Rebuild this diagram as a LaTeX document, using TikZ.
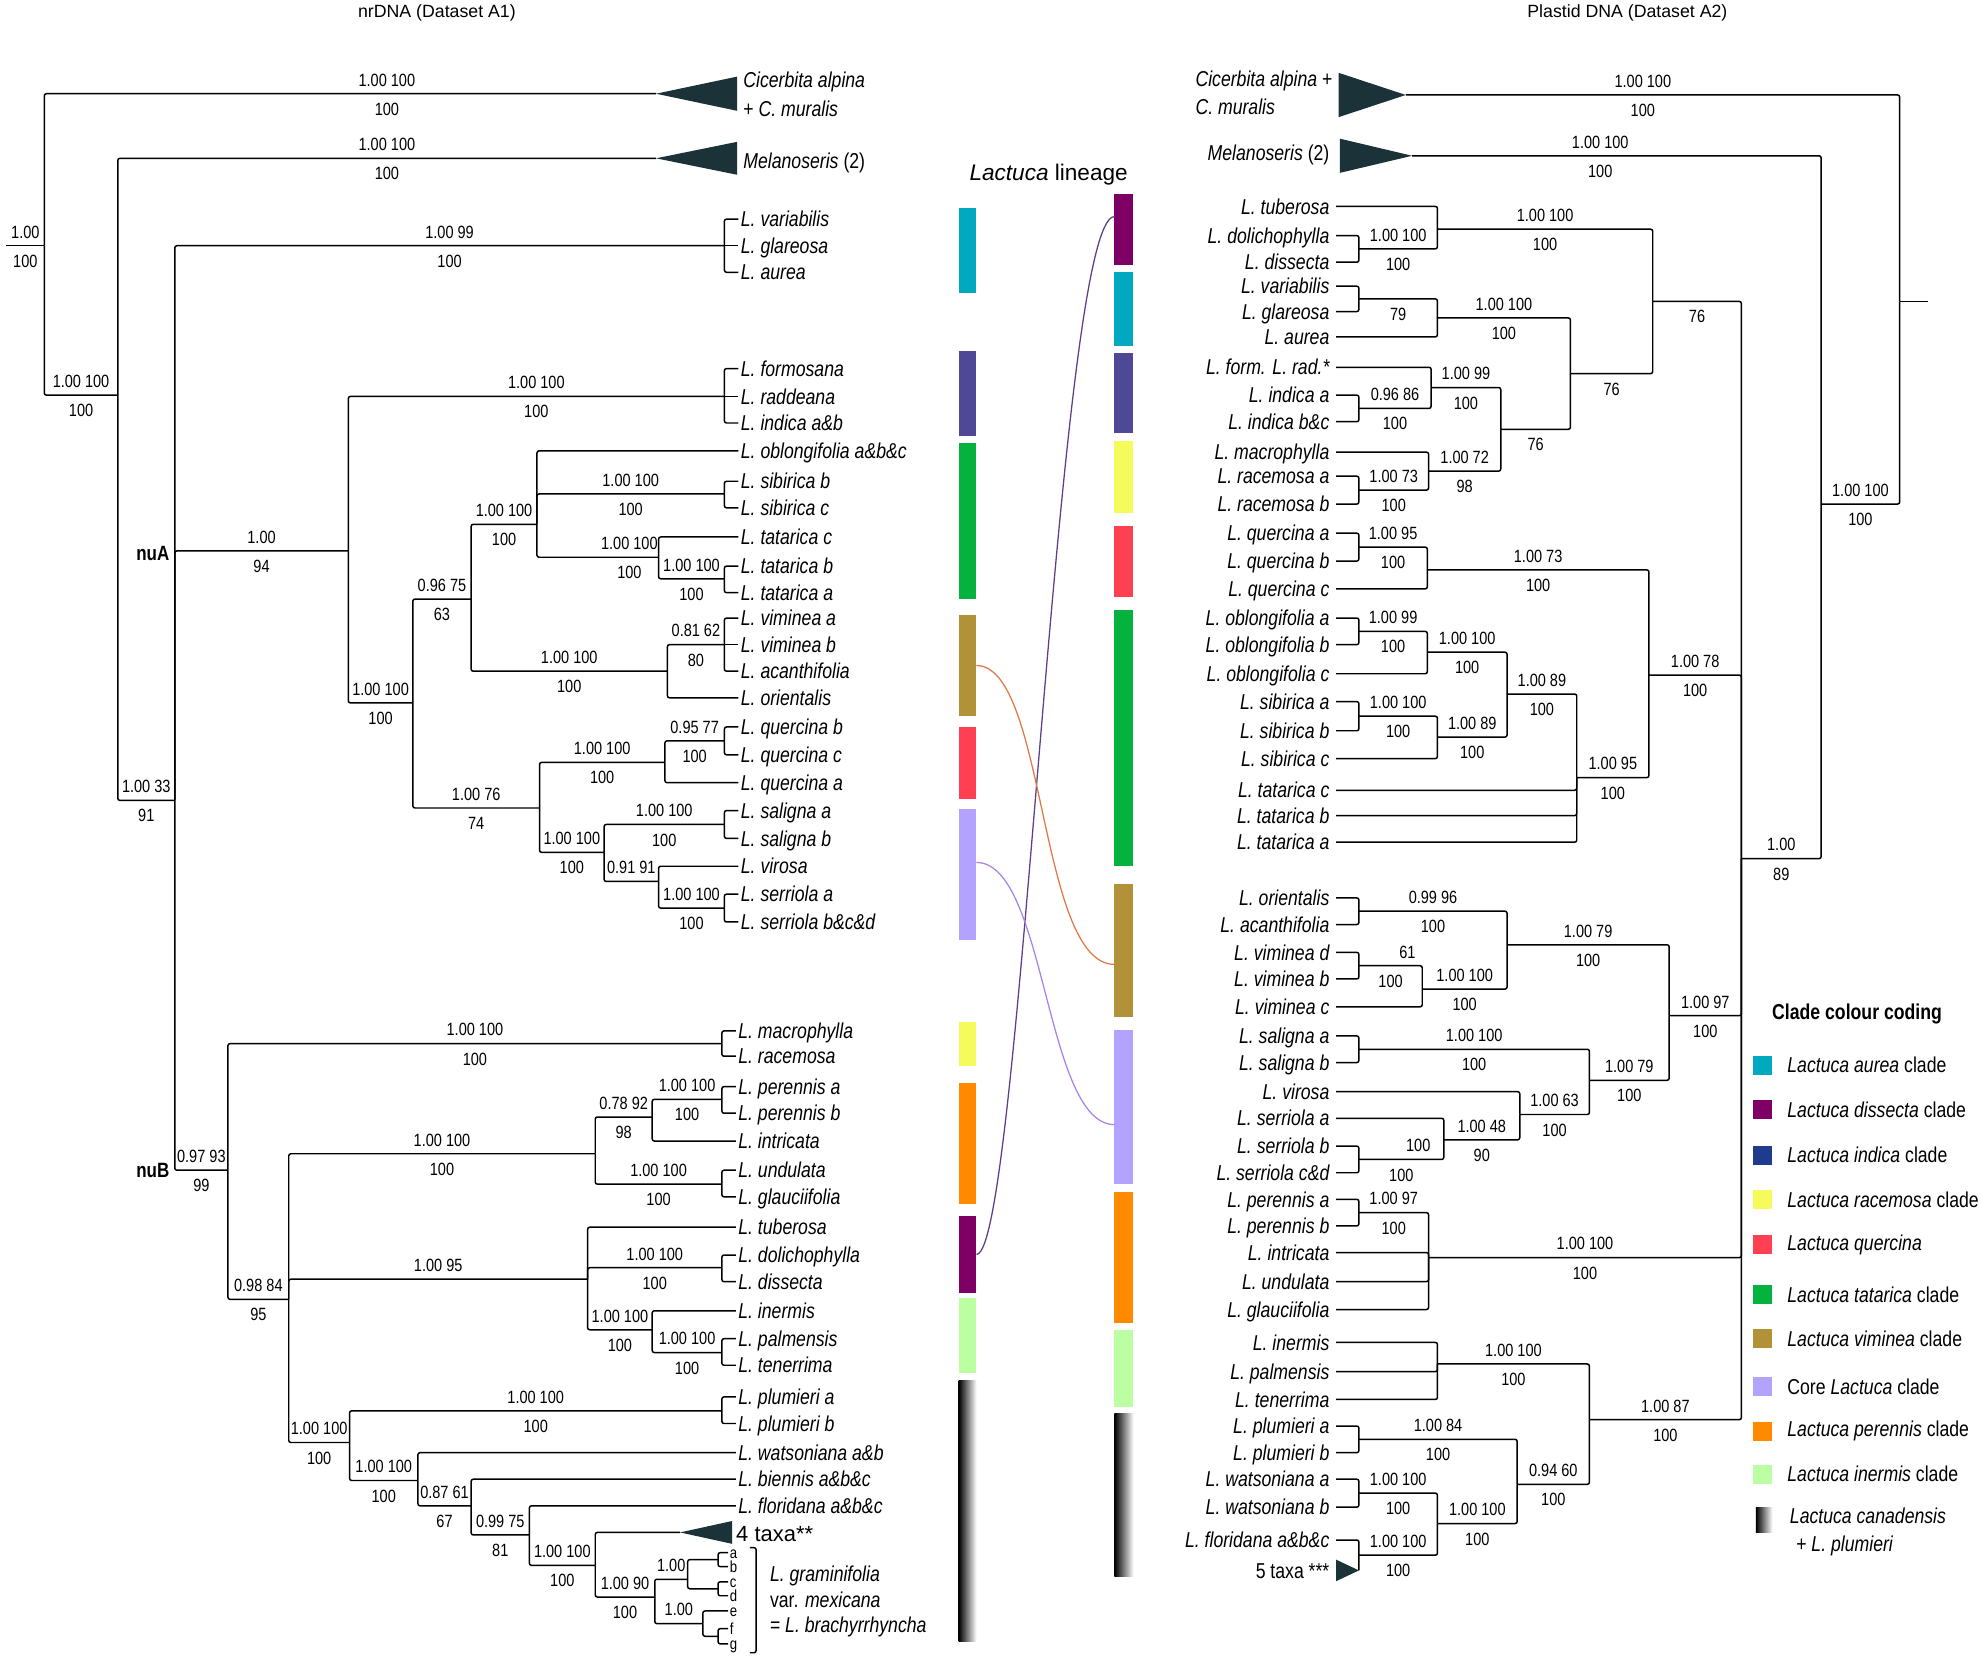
\documentclass[tikz,border=0pt]{standalone}
\usepackage{fontspec}
\setmainfont{Liberation Sans}[FakeStretch=0.82]
\newfontfamily\widefont{Liberation Sans}
\usepackage{tikz}
\usetikzlibrary{shadings}

\definecolor{caur}{HTML}{00A8C0}
\definecolor{cdis}{HTML}{7F0064}
\definecolor{cind}{HTML}{4E4897}
\definecolor{cnavy}{HTML}{1F3B8E}
\definecolor{crac}{HTML}{F6FB5C}
\definecolor{cque}{HTML}{FF4052}
\definecolor{ctat}{HTML}{04B23D}
\definecolor{cvim}{HTML}{B19239}
\definecolor{ccore}{HTML}{B4A2FF}
\definecolor{cper}{HTML}{FF8A00}
\definecolor{cine}{HTML}{BCFFA3}
\definecolor{cclade}{HTML}{1B3238}
\definecolor{cdisline}{HTML}{5C3F86}
\definecolor{cvimline}{HTML}{DE7A48}
\definecolor{ccoreline}{HTML}{A884E6}

\begin{document}
\begin{tikzpicture}
  [x=0.6pt, y=-0.6pt,
   enode/.style={minimum size=0, inner sep=0},
   br/.style={line width=0.7pt, rounded corners=1pt},
   num/.style={font=\fontsize{8.4}{9}\selectfont, inner sep=1pt},
   pplab/.style={num, pos=.75, above=2.2pt},
   bslab/.style={num, pos=.75, below=3pt},
   tax/.style={font=\fontsize{10.2}{12}\selectfont\itshape, inner ysep=0pt,
               text height=7.3pt, text depth=0pt},
   ltax/.style={tax, anchor=west, inner xsep=1pt},
   rtax/.style={tax, anchor=east, inner xsep=3pt},
   lett/.style={font=\fontsize{7.6}{8}\selectfont, anchor=west, inner xsep=0.6pt,
                inner ysep=0pt, text height=5.4pt, text depth=0pt},
   nulab/.style={font=\fontsize{9.8}{11}\selectfont\bfseries, anchor=east, inner sep=0},
   clade/.style={fill=cclade},
   cbar/.style={minimum width=8.4pt, minimum height=#1, inner sep=0, outer sep=0},
   swatch/.style={minimum size=9pt, inner sep=0},
   legtext/.style={font=\fontsize{10.2}{12}\selectfont, anchor=west, inner sep=0}]

  \useasboundingbox (0,0) rectangle (1565,1309.2);

  % titles
  \node[font=\widefont\fontsize{8.4}{10}\selectfont] (ltitle) at (345,10) {nrDNA (Dataset A1)};
  \node[font=\widefont\fontsize{8.4}{10}\selectfont] (rtitle) at (1285,10) {Plastid DNA (Dataset A2)};
  \node[font=\widefont\fontsize{10.7}{12}\selectfont] (lineage) at (828,138) {\textit{Lactuca} lineage};

  %%%%%%%%%%%%%%%% nrDNA tree %%%%%%%%%%%%%%%%
  \coordinate (lroot) at (5,194);
  \coordinate (lA) at (35,194);
  \coordinate (lB) at (93,312);
  \coordinate (lC) at (138,632);
  \coordinate (lcic) at (518,74);
  \coordinate (lmel) at (518,125);
  \draw[br] (lroot) -- (lA) node[num, midway, above=2.2pt] {1.00} node[num, midway, below=3pt] {100};
  \draw[br] (lA) |- (lcic) node[pplab, pos=.78] {1.00 100} node[bslab, pos=.78] {100};
  \draw[br] (lA) |- (lB) node[pplab] {1.00 100} node[bslab] {100};
  \draw[br] (lB) |- (lmel) node[pplab] {1.00 100} node[bslab] {100};
  \draw[br] (lB) |- (lC) node[pplab] {1.00 33} node[bslab] {91};

  % outgroups
  \fill[clade] (lcic) -- ++(64,-13.5) -- ++(0,27) -- cycle;
  \fill[clade] (lmel) -- ++(64,-13) -- ++(0,26) -- cycle;
  \node[ltax] (lcicl) at (585,63) {Cicerbita alpina};
  \node[ltax] (lcicm) at (585,86) {\textup{+} C. muralis};
  \node[ltax] (lmell) at (585,127) {Melanoseris \textup{(2)}};

  % aurea clade
  \coordinate (laurk) at (572,194);
  \draw[br] (lC) |- (laurk) node[pplab] {1.00 99} node[bslab] {100};
  \node[ltax] (lvar) at (583,173) {L. variabilis};
  \node[ltax] (lgla) at (583,194) {L. glareosa};
  \node[ltax] (laurea) at (583,215) {L. aurea};
  \draw[br] (lvar) -| (laurk) |- (laurea);
  \draw[br] (laurk) -- (lgla);

  % nuA
  \coordinate (lD) at (275,435);
  \draw[br] (lC) |- (lD) node[pplab] {1.00} node[bslab] {94};
  \node[nulab] (lnuA) at (134,437) {nuA};

  \coordinate (lindk) at (572,313);
  \draw[br] (lD) |- (lindk) node[pplab] {1.00 100} node[bslab] {100};
  \node[ltax] (lfor) at (583,291) {L. formosana};
  \node[ltax] (lrad) at (583,313) {L. raddeana};
  \node[ltax] (lind) at (583,334) {L. indica a\&b};
  \draw[br] (lfor) -| (lindk) |- (lind);
  \draw[br] (lindk) -- (lrad);

  \coordinate (lE) at (326,555);
  \coordinate (lF) at (372,473);
  \coordinate (lG) at (424,414);
  \draw[br] (lD) |- (lE) node[pplab] {1.00 100} node[bslab] {100};
  \draw[br] (lE) |- (lF) node[pplab] {0.96 75} node[bslab] {63};
  \draw[br] (lF) |- (lG) node[pplab] {1.00 100} node[bslab] {100};

  \node[ltax] (lobl) at (583,356) {L. oblongifolia a\&b\&c};
  \draw[br] (lG) |- (lobl);
  \coordinate (lsibk) at (572,390);
  \draw[br] (lG) |- (lsibk) node[pplab] {1.00 100} node[bslab] {100};
  \node[ltax] (lsibb) at (583,380) {L. sibirica b};
  \node[ltax] (lsibc) at (583,401) {L. sibirica c};
  \draw[br] (lsibb) -| (lsibk) |- (lsibc);

  \coordinate (lH) at (520,440);
  \draw[br] (lG) |- (lH) node[pplab, pos=.88] {1.00 100} node[bslab, pos=.88] {100};
  \node[ltax] (ltatc) at (583,424) {L. tatarica c};
  \draw[br] (lH) |- (ltatc);
  \coordinate (ltatk) at (572,457);
  \draw[br] (lH) |- (ltatk) node[pplab] {1.00 100} node[bslab] {100};
  \node[ltax] (ltatb) at (583,447) {L. tatarica b};
  \node[ltax] (ltata) at (583,468) {L. tatarica a};
  \draw[br] (ltatb) -| (ltatk) |- (ltata);

  \coordinate (lJ) at (527,530);
  \draw[br] (lF) |- (lJ) node[pplab] {1.00 100} node[bslab] {100};
  \coordinate (lvimk) at (572,509);
  \draw[br] (lJ) |- (lvimk) node[pplab] {0.81 62} node[bslab] {80};
  \node[ltax] (lvima) at (583,488) {L. viminea a};
  \node[ltax] (lvimb) at (583,509) {L. viminea b};
  \node[ltax] (lacan) at (583,530) {L. acanthifolia};
  \draw[br] (lvima) -| (lvimk) |- (lacan);
  \draw[br] (lvimk) -- (lvimb);
  \node[ltax] (lori) at (583,551) {L. orientalis};
  \draw[br] (lJ) |- (lori);

  \coordinate (lL) at (426,638);
  \coordinate (lM) at (525,602);
  \draw[br] (lE) |- (lL) node[pplab] {1.00 76} node[bslab] {74};
  \draw[br] (lL) |- (lM) node[pplab] {1.00 100} node[bslab] {100};
  \coordinate (lquek) at (572,585);
  \draw[br] (lM) |- (lquek) node[pplab] {0.95 77} node[bslab] {100};
  \node[ltax] (lqueb) at (583,574) {L. quercina b};
  \node[ltax] (lquec) at (583,596) {L. quercina c};
  \draw[br] (lqueb) -| (lquek) |- (lquec);
  \node[ltax] (lquea) at (583,618) {L. quercina a};
  \draw[br] (lM) |- (lquea);

  \coordinate (lO) at (477,673);
  \draw[br] (lL) |- (lO) node[pplab] {1.00 100} node[bslab] {100};
  \coordinate (lsalk) at (572,651);
  \draw[br] (lO) |- (lsalk) node[pplab] {1.00 100} node[bslab] {100};
  \node[ltax] (lsala) at (583,640) {L. saligna a};
  \node[ltax] (lsalb) at (583,662) {L. saligna b};
  \draw[br] (lsala) -| (lsalk) |- (lsalb);
  \coordinate (lQ) at (520,696);
  \draw[br] (lO) |- (lQ) node[pplab] {0.91 91};
  \node[ltax] (lvir) at (583,684) {L. virosa};
  \draw[br] (lQ) |- (lvir);
  \coordinate (lserk) at (572,717);
  \draw[br] (lQ) |- (lserk) node[pplab] {1.00 100} node[bslab] {100};
  \node[ltax] (lsera) at (583,706) {L. serriola a};
  \node[ltax] (lserb) at (583,728) {L. serriola b\&c\&d};
  \draw[br] (lsera) -| (lserk) |- (lserb);

  % nuB
  \coordinate (lS) at (180,924);
  \draw[br] (lC) |- (lS) node[pplab] {0.97 93} node[bslab] {99};
  \node[nulab] (lnuB) at (134,924) {nuB};

  \coordinate (lmack) at (570,824);
  \draw[br] (lS) |- (lmack) node[pplab] {1.00 100} node[bslab] {100};
  \node[ltax] (lmac) at (581,814) {L. macrophylla};
  \node[ltax] (lrac) at (581,834) {L. racemosa};
  \draw[br] (lmac) -| (lmack) |- (lrac);

  \coordinate (lT) at (228,1026);
  \coordinate (lU) at (470,911);
  \coordinate (lV) at (515,882);
  \draw[br] (lS) |- (lT) node[pplab] {0.98 84} node[bslab] {95};
  \draw[br] (lT) |- (lU) node[pplab] {1.00 100} node[bslab] {100};
  \draw[br] (lU) |- (lV) node[pplab] {0.78 92} node[bslab] {98};
  \coordinate (lperk) at (570,868);
  \draw[br] (lV) |- (lperk) node[pplab] {1.00 100} node[bslab] {100};
  \node[ltax] (lpera) at (581,858) {L. perennis a};
  \node[ltax] (lperb) at (581,879) {L. perennis b};
  \draw[br] (lpera) -| (lperk) |- (lperb);
  \node[ltax] (lint) at (581,901) {L. intricata};
  \draw[br] (lV) |- (lint);
  \coordinate (lundk) at (570,935);
  \draw[br] (lU) |- (lundk) node[pplab] {1.00 100} node[bslab] {100};
  \node[ltax] (lund) at (581,924) {L. undulata};
  \node[ltax] (lglc) at (581,945) {L. glauciifolia};
  \draw[br] (lund) -| (lundk) |- (lglc);

  \coordinate (lY) at (464,1010);
  \draw[br] (lT) |- (lY) node[pplab] {1.00 95};
  \node[ltax] (ltub) at (581,969) {L. tuberosa};
  \draw[br] (lY) |- (ltub);
  \coordinate (ldolk) at (570,1001);
  \draw[br] (lY) |- (ldolk) node[pplab] {1.00 100} node[bslab] {100};
  \node[ltax] (ldol) at (581,991) {L. dolichophylla};
  \node[ltax] (ldis) at (581,1012) {L. dissecta};
  \draw[br] (ldol) -| (ldolk) |- (ldis);
  \coordinate (lAA) at (515,1050);
  \draw[br] (lY) |- (lAA) node[pplab] {1.00 100} node[bslab] {100};
  \node[ltax] (line) at (581,1035) {L. inermis};
  \draw[br] (lAA) |- (line);
  \coordinate (lpalk) at (570,1068);
  \draw[br] (lAA) |- (lpalk) node[pplab] {1.00 100} node[bslab] {100};
  \node[ltax] (lpal) at (581,1057) {L. palmensis};
  \node[ltax] (lten) at (581,1078) {L. tenerrima};
  \draw[br] (lpal) -| (lpalk) |- (lten);

  \coordinate (lAC) at (276,1139);
  \draw[br] (lT) |- (lAC) node[pplab] {1.00 100} node[bslab] {100};
  \coordinate (lpluk) at (570,1114);
  \draw[br] (lAC) |- (lpluk) node[pplab] {1.00 100} node[bslab] {100};
  \node[ltax] (lplua) at (581,1103) {L. plumieri a};
  \node[ltax] (lplub) at (581,1124) {L. plumieri b};
  \draw[br] (lplua) -| (lpluk) |- (lplub);
  \coordinate (lAD) at (330,1169);
  \draw[br] (lAC) |- (lAD) node[pplab] {1.00 100} node[bslab] {100};
  \node[ltax] (lwat) at (581,1147) {L. watsoniana a\&b};
  \draw[br] (lAD) |- (lwat);
  \coordinate (lAE) at (372,1189);
  \draw[br] (lAD) |- (lAE) node[pplab] {0.87 61} node[bslab] {67};
  \node[ltax] (lbie) at (581,1168) {L. biennis a\&b\&c};
  \draw[br] (lAE) |- (lbie);
  \coordinate (lAF) at (418,1212);
  \draw[br] (lAE) |- (lAF) node[pplab] {0.99 75} node[bslab] {81};
  \node[ltax] (lflo) at (581,1189) {L. floridana a\&b\&c};
  \draw[br] (lAF) |- (lflo);
  \coordinate (lAG) at (470,1236);
  \draw[br] (lAF) |- (lAG) node[pplab] {1.00 100} node[bslab] {100};
  \coordinate (lfour) at (537,1210);
  \draw[br] (lAG) |- (lfour);
  \fill[clade] (lfour) -- ++(41,-9) -- ++(0,18) -- cycle;
  \node[anchor=west, inner sep=0, font=\widefont\fontsize{10.4}{12}\selectfont] (lfourl) at (581,1211) {4 taxa**};

  % L. graminifolia
  \coordinate (lAH) at (517,1261);
  \draw[br] (lAG) |- (lAH) node[pplab] {1.00 90} node[bslab] {100};
  \coordinate (lgr1) at (543,1247);
  \coordinate (lgr2) at (555,1282);
  \draw[br] (lAH) |- (lgr1) node[pplab] {1.00};
  \draw[br] (lAH) |- (lgr2) node[pplab] {1.00};
  \coordinate (lgrab) at (567,1231.5);
  \coordinate (lgrcd) at (567,1254.5);
  \coordinate (lgrfg) at (567,1292);
  \draw[br] (lgr1) |- (lgrab);
  \draw[br] (lgr1) |- (lgrcd);
  \node[lett] (lga) at (575,1226) {a};
  \node[lett] (lgb) at (575,1237) {b};
  \node[lett] (lgc) at (575,1249) {c};
  \node[lett] (lgd) at (575,1260) {d};
  \node[lett] (lge) at (575,1272) {e};
  \node[lett] (lgf) at (575,1286) {f};
  \node[lett] (lgg) at (575,1298) {g};
  \draw[br] (lga) -| (lgrab) |- (lgb);
  \draw[br] (lgc) -| (lgrcd) |- (lgd);
  \draw[br] (lgr2) |- (lge);
  \draw[br] (lgr2) |- (lgrfg);
  \draw[br] (lgf) -| (lgrfg) |- (lgg);
  \draw[br] (592,1222) -- (597,1222) -- (597,1305) -- (592,1305);
  \node[ltax] (lgram) at (606,1243) {L. graminifolia};
  \node[ltax] (lgvar) at (606,1263) {\textup{var.} mexicana};
  \node[ltax] (lgbra) at (606,1283) {\textup{=} L. brachyrrhyncha};

  % colour bars nrDNA
  \node[cbar=40.2pt, fill=caur] (laurbar) at (764,197.5) {};
  \node[cbar=40.2pt, fill=cind] (lindbar) at (764,310.5) {};
  \node[cbar=73.8pt, fill=ctat] (ltatbar) at (764,411.5) {};
  \node[cbar=47.4pt, fill=cvim] (lvimbar) at (764,525.5) {};
  \node[cbar=34.2pt, fill=cque] (lquebar) at (764,602.5) {};
  \node[cbar=61.8pt, fill=ccore] (lcorebar) at (764,690.5) {};
  \node[cbar=21pt, fill=crac] (lracbar) at (764,824.5) {};
  \node[cbar=57.6pt, fill=cper] (lperbar) at (764,903) {};
  \node[cbar=36.6pt, fill=cdis] (ldisbar) at (764,990.5) {};
  \node[cbar=35.4pt, fill=cine] (linebar) at (764,1054.5) {};
  \node[cbar=123.6pt, left color=black, right color=white] (lcanbar) at (764,1193) {};

  % colour bars plastid
  \node[cbar=33.6pt, minimum width=9pt, fill=cdis] (rdisbar) at (887.5,181) {};
  \node[cbar=34.8pt, minimum width=9pt, fill=caur] (raurbar) at (887.5,244) {};
  \node[cbar=37.8pt, minimum width=9pt, fill=cind] (rindbar) at (887.5,310.5) {};
  \node[cbar=34.2pt, minimum width=9pt, fill=crac] (rracbar) at (887.5,376.5) {};
  \node[cbar=33.6pt, minimum width=9pt, fill=cque] (rquebar) at (887.5,443) {};
  \node[cbar=121.2pt, minimum width=9pt, fill=ctat] (rtatbar) at (887.5,583) {};
  \node[cbar=63pt, minimum width=9pt, fill=cvim] (rvimbar) at (887.5,750.5) {};
  \node[cbar=73.2pt, minimum width=9pt, fill=ccore] (rcorebar) at (887.5,874) {};
  \node[cbar=62.4pt, minimum width=9pt, fill=cper] (rperbar) at (887.5,993) {};
  \node[cbar=36.6pt, minimum width=9pt, fill=cine] (rinebar) at (887.5,1080.5) {};
  \node[cbar=77.4pt, minimum width=9pt, left color=black, right color=white] (rcanbar) at (887.5,1180.5) {};

  % links between the two trees
  \draw[cdisline, line width=0.6pt] (ldisbar.east) .. controls +(35,0) and +(-45,0) .. ([yshift=6pt]rdisbar.west);
  \draw[cvimline, line width=0.6pt] (lvimbar.east) .. controls +(55,0) and +(-60,0) .. ([yshift=-6.6pt]rvimbar.west);
  \draw[ccoreline, line width=0.6pt] ([yshift=5.7pt]lcorebar.east) .. controls +(55,0) and +(-55,0) .. ([yshift=-8.4pt]rcorebar.west);

  %%%%%%%%%%%%%%%% plastid tree %%%%%%%%%%%%%%%%
  \coordinate (rroot) at (1522,238);
  \coordinate (rA) at (1500,238);
  \coordinate (rB) at (1438,398);
  \coordinate (rC) at (1375,678);
  \coordinate (rcic) at (1110,75);
  \coordinate (rmel) at (1115,123);
  \draw[br] (rroot) -- (rA);
  \draw[br] (rA) |- (rcic) node[pplab, pos=.76] {1.00 100} node[bslab, pos=.76] {100};
  \draw[br] (rA) |- (rB) node[pplab] {1.00 100} node[bslab] {100};
  \draw[br] (rB) |- (rmel) node[pplab, pos=.77] {1.00 100} node[bslab, pos=.77] {100};
  \draw[br] (rB) |- (rC) node[pplab] {1.00} node[bslab] {89};
  \fill[clade] (rcic) -- ++(-53,-17.5) -- ++(0,35) -- cycle;
  \fill[clade] (rmel) -- ++(-57,-13.5) -- ++(0,27) -- cycle;
  \node[ltax] (rcicl) at (942,62) {Cicerbita alpina \textup{+}};
  \node[ltax] (rcicm) at (942,84) {C. muralis};
  \node[rtax] (rmell) at (1055,121) {Melanoseris \textup{(2)}};

  % first clade
  \coordinate (rP1) at (1305,238);
  \draw[br] (rC) |- (rP1) node[bslab] {76};
  \coordinate (rT1) at (1135,181);
  \coordinate (rT2) at (1073,196.5);
  \draw[br] (rP1) |- (rT1) node[pplab] {1.00 100} node[bslab] {100};
  \draw[br] (rT1) |- (rT2) node[pplab] {1.00 100} node[bslab] {100};
  \node[rtax] (rtub) at (1055,163) {L. tuberosa};
  \node[rtax] (rdol) at (1055,186) {L. dolichophylla};
  \node[rtax] (rdis) at (1055,207) {L. dissecta};
  \draw[br] (rT1) |- (rtub);
  \draw[br] (rdol) -| (rT2) |- (rdis);

  \coordinate (rP2) at (1240,295);
  \draw[br] (rP1) |- (rP2) node[bslab] {76};
  \coordinate (rA1) at (1135,251);
  \coordinate (rA2) at (1073,236);
  \draw[br] (rP2) |- (rA1) node[pplab] {1.00 100} node[bslab] {100};
  \draw[br] (rA1) |- (rA2) node[bslab] {79};
  \node[rtax] (rvar) at (1055,226) {L. variabilis};
  \node[rtax] (rgla) at (1055,246) {L. glareosa};
  \node[rtax] (raur) at (1055,266) {L. aurea};
  \draw[br] (rvar) -| (rA2) |- (rgla);
  \draw[br] (rA1) |- (raur);

  \coordinate (rP3) at (1185,339);
  \draw[br] (rP2) |- (rP3) node[bslab] {76};
  \coordinate (rI2) at (1130,306);
  \coordinate (rI3) at (1073,322.5);
  \draw[br] (rP3) |- (rI2) node[pplab] {1.00 99} node[bslab] {100};
  \draw[br] (rI2) |- (rI3) node[pplab] {0.96 86} node[bslab] {100};
  \node[rtax] (rfor) at (1055,290) {L. form. L. rad.*};
  \node[rtax] (rinda) at (1055,312) {L. indica a};
  \node[rtax] (rindb) at (1055,333) {L. indica b\&c};
  \draw[br] (rI2) |- (rfor);
  \draw[br] (rinda) -| (rI3) |- (rindb);
  \coordinate (rM1) at (1128,372);
  \coordinate (rM2) at (1073,387);
  \draw[br] (rP3) |- (rM1) node[pplab] {1.00 72} node[bslab] {98};
  \draw[br] (rM1) |- (rM2) node[pplab] {1.00 73} node[bslab] {100};
  \node[rtax] (rmac) at (1055,357) {L. macrophylla};
  \node[rtax] (rraca) at (1055,376) {L. racemosa a};
  \node[rtax] (rracb) at (1055,398) {L. racemosa b};
  \draw[br] (rM1) |- (rmac);
  \draw[br] (rraca) -| (rM2) |- (rracb);

  % second clade
  \coordinate (rQ1) at (1302,533);
  \draw[br] (rC) |- (rQ1) node[pplab] {1.00 78} node[bslab] {100};
  \coordinate (rQc) at (1127,450);
  \coordinate (rQab) at (1073,432);
  \draw[br] (rQ1) |- (rQc) node[pplab] {1.00 73} node[bslab] {100};
  \draw[br] (rQc) |- (rQab) node[pplab] {1.00 95} node[bslab] {100};
  \node[rtax] (rquea) at (1055,421) {L. quercina a};
  \node[rtax] (rqueb) at (1055,443) {L. quercina b};
  \node[rtax] (rquec) at (1055,465) {L. quercina c};
  \draw[br] (rquea) -| (rQab) |- (rqueb);
  \draw[br] (rQc) |- (rquec);

  \coordinate (rQ2) at (1245,614);
  \coordinate (rQ3) at (1190,548);
  \draw[br] (rQ1) |- (rQ2) node[pplab] {1.00 95} node[bslab] {100};
  \draw[br] (rQ2) |- (rQ3) node[pplab] {1.00 89} node[bslab] {100};
  \coordinate (rOb) at (1127,515);
  \coordinate (rOab) at (1073,498.5);
  \draw[br] (rQ3) |- (rOb) node[pplab] {1.00 100} node[bslab] {100};
  \draw[br] (rOb) |- (rOab) node[pplab] {1.00 99} node[bslab] {100};
  \node[rtax] (robla) at (1055,488) {L. oblongifolia a};
  \node[rtax] (roblb) at (1055,509) {L. oblongifolia b};
  \node[rtax] (roblc) at (1055,532) {L. oblongifolia c};
  \draw[br] (robla) -| (rOab) |- (roblb);
  \draw[br] (rOb) |- (roblc);
  \coordinate (rSi) at (1135,582);
  \coordinate (rSab) at (1073,565.5);
  \draw[br] (rQ3) |- (rSi) node[pplab] {1.00 89} node[bslab] {100};
  \draw[br] (rSi) |- (rSab) node[pplab] {1.00 100} node[bslab] {100};
  \node[rtax] (rsiba) at (1055,554) {L. sibirica a};
  \node[rtax] (rsibb) at (1055,577) {L. sibirica b};
  \node[rtax] (rsibc) at (1055,599) {L. sibirica c};
  \draw[br] (rsiba) -| (rSab) |- (rsibb);
  \draw[br] (rSi) |- (rsibc);
  \node[rtax] (rtatc) at (1055,624) {L. tatarica c};
  \node[rtax] (rtatb) at (1055,644) {L. tatarica b};
  \node[rtax] (rtata) at (1055,665) {L. tatarica a};
  \draw[br] (rQ2) |- (rtatc);
  \draw[br] (rQ2) |- (rtatb);
  \draw[br] (rQ2) |- (rtata);

  % third clade
  \coordinate (rV1) at (1318,802);
  \draw[br] (rC) |- (rV1) node[pplab] {1.00 97} node[bslab] {100};
  \coordinate (rV2) at (1190,746);
  \coordinate (rOa) at (1073,719.5);
  \draw[br] (rV1) |- (rV2) node[pplab] {1.00 79} node[bslab] {100};
  \draw[br] (rV2) |- (rOa) node[pplab] {0.99 96} node[bslab] {100};
  \node[rtax] (rori) at (1055,709) {L. orientalis};
  \node[rtax] (racan) at (1055,730) {L. acanthifolia};
  \draw[br] (rori) -| (rOa) |- (racan);
  \coordinate (rVi) at (1123,781);
  \coordinate (rVdb) at (1073,762.5);
  \draw[br] (rV2) |- (rVi) node[pplab] {1.00 100} node[bslab] {100};
  \draw[br] (rVi) |- (rVdb) node[pplab, xshift=8pt] {61} node[bslab] {100};
  \node[rtax] (rvimd) at (1055,752) {L. viminea d};
  \node[rtax] (rvimb) at (1055,773) {L. viminea b};
  \node[rtax] (rvimc) at (1055,795) {L. viminea c};
  \draw[br] (rvimd) -| (rVdb) |- (rvimb);
  \draw[br] (rVi) |- (rvimc);
  \coordinate (rS1) at (1255,853);
  \coordinate (rSa) at (1073,828.5);
  \draw[br] (rV1) |- (rS1) node[pplab] {1.00 79} node[bslab] {100};
  \draw[br] (rS1) |- (rSa) node[pplab] {1.00 100} node[bslab] {100};
  \node[rtax] (rsala) at (1055,818) {L. saligna a};
  \node[rtax] (rsalb) at (1055,839) {L. saligna b};
  \draw[br] (rsala) -| (rSa) |- (rsalb);
  \coordinate (rVs) at (1200,880);
  \coordinate (rSe) at (1140,900);
  \coordinate (rSbc) at (1073,915.5);
  \draw[br] (rS1) |- (rVs) node[pplab] {1.00 63} node[bslab] {100};
  \draw[br] (rVs) |- (rSe) node[pplab] {1.00 48} node[bslab] {90};
  \draw[br] (rSe) |- (rSbc) node[pplab, xshift=8pt] {100} node[bslab] {100};
  \node[rtax] (rvir) at (1055,862) {L. virosa};
  \node[rtax] (rsera) at (1055,883) {L. serriola a};
  \node[rtax] (rserb) at (1055,905) {L. serriola b};
  \node[rtax] (rserc) at (1055,926) {L. serriola c\&d};
  \draw[br] (rVs) |- (rvir);
  \draw[br] (rSe) |- (rsera);
  \draw[br] (rserb) -| (rSbc) |- (rserc);

  % fourth clade
  \coordinate (rPer) at (1128,993);
  \coordinate (rPab) at (1073,957.5);
  \draw[br] (rC) |- (rPer) node[pplab] {1.00 100} node[bslab] {100};
  \draw[br] (rPer) |- (rPab) node[pplab] {1.00 97} node[bslab] {100};
  \node[rtax] (rpera) at (1055,947) {L. perennis a};
  \node[rtax] (rperb) at (1055,968) {L. perennis b};
  \node[rtax] (rint) at (1055,989) {L. intricata};
  \node[rtax] (rund) at (1055,1012) {L. undulata};
  \node[rtax] (rglc) at (1055,1034) {L. glauciifolia};
  \draw[br] (rpera) -| (rPab) |- (rperb);
  \draw[br] (rPer) |- (rint);
  \draw[br] (rPer) |- (rund);
  \draw[br] (rPer) |- (rglc);

  % fifth clade
  \coordinate (rI1) at (1255,1121);
  \coordinate (rIn) at (1135,1077);
  \draw[br] (rC) |- (rI1) node[pplab] {1.00 87} node[bslab] {100};
  \draw[br] (rI1) |- (rIn) node[pplab] {1.00 100} node[bslab] {100};
  \node[rtax] (rine) at (1055,1060) {L. inermis};
  \node[rtax] (rpal) at (1055,1083) {L. palmensis};
  \node[rtax] (rten) at (1055,1105) {L. tenerrima};
  \draw[br] (rIn) |- (rine);
  \draw[br] (rIn) |- (rpal);
  \draw[br] (rIn) |- (rten);
  \coordinate (rPl) at (1198,1172);
  \coordinate (rPab2) at (1073,1136.5);
  \draw[br] (rI1) |- (rPl) node[pplab] {0.94 60} node[bslab] {100};
  \draw[br] (rPl) |- (rPab2) node[pplab] {1.00 84} node[bslab] {100};
  \node[rtax] (rplua) at (1055,1126) {L. plumieri a};
  \node[rtax] (rplub) at (1055,1147) {L. plumieri b};
  \draw[br] (rplua) -| (rPab2) |- (rplub);
  \coordinate (rWF) at (1135,1203);
  \coordinate (rWab) at (1073,1179);
  \coordinate (rF5) at (1073,1228);
  \draw[br] (rPl) |- (rWF) node[pplab] {1.00 100} node[bslab] {100};
  \draw[br] (rWF) |- (rWab) node[pplab] {1.00 100} node[bslab] {100};
  \draw[br] (rWF) |- (rF5) node[pplab] {1.00 100} node[bslab] {100};
  \node[rtax] (rwata) at (1055,1168) {L. watsoniana a};
  \node[rtax] (rwatb) at (1055,1190) {L. watsoniana b};
  \draw[br] (rwata) -| (rWab) |- (rwatb);
  \node[rtax] (rflo) at (1055,1216) {L. floridana a\&b\&c};
  \coordinate (rfive) at (1073,1240);
  \draw[br] (rflo) -| (rF5) -- (rfive);
  \fill[clade] (rfive) -- ++(-18,-8.5) -- ++(0,17) -- cycle;
  \node[rtax] (rfivel) at (1055,1240) {\textup{5 taxa ***}};

  %%%%%%%%%%%%%%%% legend %%%%%%%%%%%%%%%%
  \node[legtext, font=\fontsize{10.2}{12}\selectfont\bfseries] (legtitle) at (1399,801) {Clade colour coding};
  \foreach \y/\c/\t in {841/caur/{\textit{Lactuca aurea} clade},
                        876/cdis/{\textit{Lactuca dissecta} clade},
                        912/cnavy/{\textit{Lactuca indica} clade},
                        947/crac/{\textit{Lactuca racemosa} clade},
                        983/cque/{\textit{Lactuca quercina}},
                        1022/ctat/{\textit{Lactuca tatarica} clade},
                        1057/cvim/{\textit{Lactuca viminea} clade},
                        1095/ccore/{Core \textit{Lactuca} clade},
                        1130/cper/{\textit{Lactuca perennis} clade},
                        1164/cine/{\textit{Lactuca inermis} clade}}
  {
    \node[swatch, fill=\c] at (1392,\y) {};
    \node[legtext] at (1411,\y) {\t};
  }
  \node[swatch, minimum width=7.8pt, minimum height=12pt, left color=black, right color=white] (legcan) at (1393,1200) {};
  \node[legtext] (legcana) at (1413,1197) {\textit{Lactuca canadensis}};
  \node[legtext] (legcanb) at (1418,1221) {+ \textit{L. plumieri}};
\end{tikzpicture}
\end{document}
